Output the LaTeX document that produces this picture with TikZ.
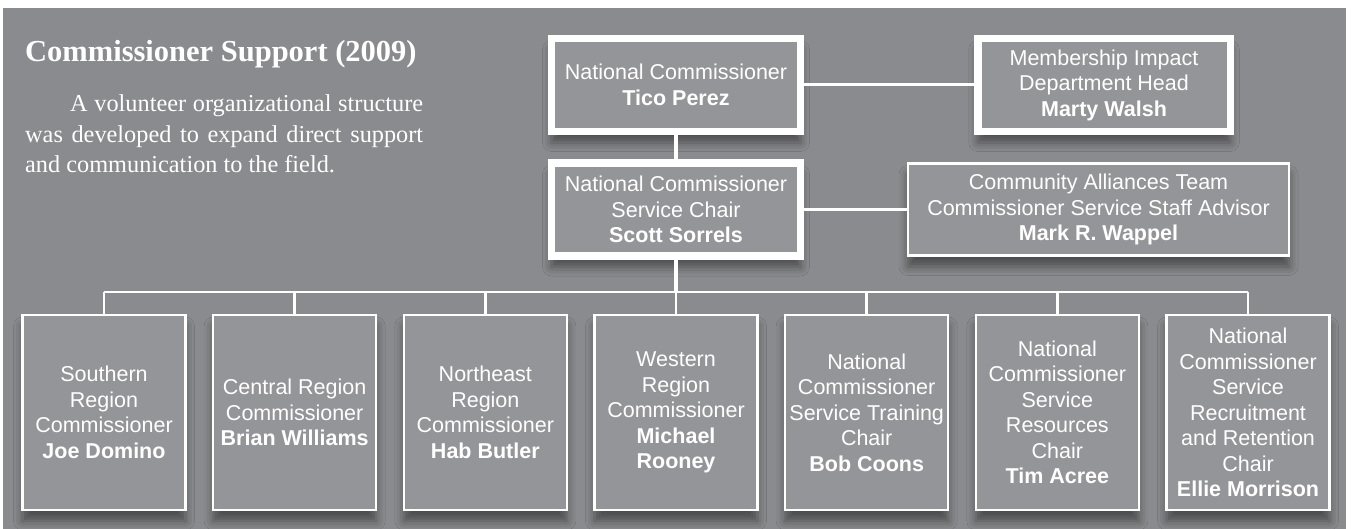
\documentclass[tikz,border=0pt]{standalone}
\usepackage{fontspec}
\setmainfont{Liberation Serif}
\setsansfont{Liberation Sans}
\usetikzlibrary{shadows.blur}

\definecolor{bggray}{RGB}{138,139,142}
\definecolor{boxgray}{RGB}{148,149,152}

\tikzset{
  box/.style={draw=white, fill=boxgray, inner sep=0pt, align=center, text=white,
    font=\sffamily\fontsize{21.5}{25.5}\selectfont,
    blur shadow={shadow xshift=0pt, shadow yshift=-11pt, shadow blur radius=9pt, shadow opacity=45}},
  headbox/.style={box, line width=7.5pt, minimum width=249pt, minimum height=93pt},
  staffbox/.style={box, line width=2.3pt},
  regionbox/.style={box, line width=2.3pt, minimum width=163pt, minimum height=195pt},
  link/.style={draw=white, line width=2.7pt},
}

\begin{document}
\begin{tikzpicture}[x=1pt,y=-1pt]
\useasboundingbox (0,0) rectangle (1351,529);
\fill[bggray] (3,8) rectangle (1346,529);

\node[anchor=base west, inner sep=0pt, text=white, font=\bfseries\fontsize{30.5}{36}\selectfont] (title) at (25,62) {Commissioner Support (2009)};
\node[anchor=north west, inner sep=0pt, text=white, text width=398pt, align=justify, font=\fontsize{24.3}{30.5}\selectfont] (intro) at (25,94.5)
  {\hyphenpenalty=10000\exhyphenpenalty=10000\hspace*{45pt}A volunteer organizational structure\linebreak was developed to expand direct support\linebreak and communication to the field.};

\node[headbox] (tico) at (676,85) {National Commissioner\\\textbf{Tico Perez}};
\node[headbox, minimum width=252.5pt] (marty) at (1104,85) {Membership Impact\\Department Head\\\textbf{Marty Walsh}};
\node[headbox] (scott) at (676,209.5) {National Commissioner\\Service Chair\\\textbf{Scott Sorrels}};
\node[staffbox, minimum width=381pt, minimum height=92pt] (mark) at (1098.5,209.5) {Community Alliances Team\\Commissioner Service Staff Advisor\\\textbf{Mark R. Wappel}};

\foreach \i/\txt in {
  1/{Southern\\Region\\Commissioner\\\textbf{Joe Domino}},
  2/{Central Region\\Commissioner\\\textbf{Brian Williams}},
  3/{Northeast\\Region\\Commissioner\\\textbf{Hab Butler}},
  4/{Western\\Region\\Commissioner\\\textbf{Michael}\\\textbf{Rooney}},
  5/{National\\Commissioner\\Service Training\\Chair\\\textbf{Bob Coons}},
  6/{National\\Commissioner\\Service\\Resources\\Chair\\\textbf{Tim Acree}},
  7/{National\\Commissioner\\Service\\Recruitment\\and Retention\\Chair\\\textbf{Ellie Morrison}}}
  \node[regionbox] (r\i) at ({104+190.67*(\i-1)},412.5) {\txt};

\draw[link, line width=3pt] (tico) -- (marty);
\draw[link, line width=4pt] (tico) -- (scott);
\draw[link, line width=3pt] (scott) -- (mark);
\coordinate (bus) at (676,292);
\draw[link, line width=4pt] (scott.south) -- (bus);
\draw[link] (r1.north |- bus) -- (r7.north |- bus);
\foreach \i in {1,...,7}
  \draw[link] (r\i.north |- bus) -- (r\i.north);
\end{tikzpicture}
\end{document}
